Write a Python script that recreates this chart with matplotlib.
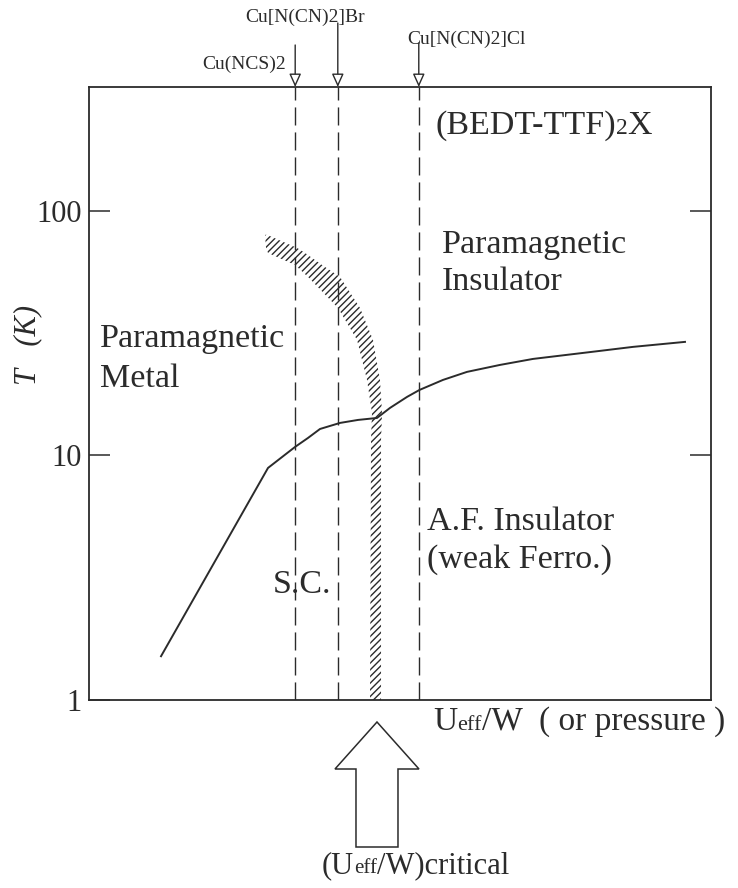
import matplotlib
matplotlib.use('Agg')
import matplotlib.pyplot as plt
from matplotlib.patches import FancyArrow
from matplotlib.transforms import IdentityTransform

plt.rcParams['font.family'] = ['Liberation Serif', 'DejaVu Serif']
plt.rcParams['hatch.linewidth'] = 1.0

INK = '#2b2b2b'

# ---------------- data ----------------
# phase boundary line, x in arbitrary Ueff/W units
boundary_x = [1.158, 2.878, 3.312, 3.521, 3.714, 4.035, 4.325, 4.630, 4.839,
              5.113, 5.314, 5.691, 6.077, 6.608, 7.138, 8.215, 8.746, 9.582]
boundary_T = [1.51, 8.89, 10.83, 11.79, 12.83, 13.58, 13.97, 14.23, 15.64,
              17.35, 18.53, 20.36, 21.96, 23.45, 24.81, 26.76, 27.79, 29.13]

# hatched first-order Mott transition band
band_T = [79.8, 70.6, 67.3, 60.1, 53.7, 40.1, 29.7, 20.4, 14.9, 11.6, 1.0]
band_left = [2.830, 2.846, 2.878, 3.312, 3.521, 4.003, 4.309, 4.469, 4.550, 4.534, 4.518]
band_right = [2.862, 3.344, 3.473, 3.746, 4.035, 4.357, 4.566, 4.678, 4.711, 4.695, 4.695]

# compounds (vertical dashed lines)
compound_names = ['Cu(NCS)2', 'Cu[N(CN)2]Br', 'Cu[N(CN)2]Cl']
compound_x = [3.315, 4.000, 5.302]

x_critical = 4.63

yticks = [1, 10, 100]
ytick_labels = ['1', '10', '100']

# ---------------- figure ----------------
W, H = 738, 888
fig = plt.figure(figsize=(W / 100, H / 100), dpi=100)
ax = fig.add_axes([89 / W, 1 - 700 / H, (711 - 89) / W, (700 - 87) / H])
renderer = fig.canvas.get_renderer()


def fp(px, py):
    return px / W, 1 - py / H


def pieces(px, py, parts, **kw):
    """Draw consecutive text runs of different sizes on one baseline."""
    x = px
    for s, size in parts:
        t = fig.text(x / W, 1 - py / H, s, fontsize=size, va='baseline',
                     color=INK, **kw)
        x += t.get_window_extent(renderer).width


ax.set_yscale('log')
ax.set_xlim(0, 10)
ax.set_ylim(1, 321)
ax.set_xticks([])
ax.set_yticks(yticks)
ax.set_yticklabels(ytick_labels)
ax.yaxis.set_minor_locator(matplotlib.ticker.NullLocator())
ax.tick_params(axis='y', which='major', direction='in', left=True, right=True,
               length=15, width=1.1, color=INK, labelsize=22, labelcolor=INK, pad=5)
for s in ax.spines.values():
    s.set_linewidth(1.3)
    s.set_color(INK)

# dashed compound lines
for xc in compound_x:
    ax.axvline(xc, color=INK, lw=1.0, ls=(0, (13, 5)))

# hatched band
ax.fill_betweenx(band_T, band_left, band_right, facecolor='none',
                 edgecolor=INK, hatch='/////', linewidth=0)

# boundary line
ax.plot(boundary_x, boundary_T, color=INK, lw=1.4)

# top arrows and compound labels
arrow_start_py = [45, 23, 43]
label_pos = [(286, 64, 'right'), (305, 17, 'center'), (466, 39, 'center')]
for name, xc, sp, (lx, ly, ha) in zip(compound_names, compound_x, arrow_start_py, label_pos):
    ax.annotate('', xy=(xc, H - 87), xycoords=('data', 'figure pixels'),
                xytext=(xc, H - sp), textcoords=('data', 'figure pixels'),
                arrowprops=dict(arrowstyle='-|>,head_length=0.8,head_width=0.36',
                                mutation_scale=10, fc='white', ec=INK, lw=1.0,
                                shrinkA=0, shrinkB=0),
                annotation_clip=False)
    fig.text(*fp(lx, ly), name, ha=ha, va='center', fontsize=14, color=INK)

# region labels
big = 24.5
pieces(435, 134, [('(BEDT-TTF)', big), ('2', 17), ('X', big)])
fig.text(*fp(442, 253), 'Paramagnetic', fontsize=big, va='baseline', color=INK)
fig.text(*fp(442, 290), 'Insulator', fontsize=big, va='baseline', color=INK)
fig.text(*fp(100, 347), 'Paramagnetic', fontsize=big, va='baseline', color=INK)
fig.text(*fp(100, 387), 'Metal', fontsize=big, va='baseline', color=INK)
fig.text(*fp(427, 530), 'A.F. Insulator', fontsize=big, va='baseline', color=INK)
fig.text(*fp(427, 568), '(weak Ferro.)', fontsize=big, va='baseline', color=INK)
fig.text(*fp(273, 593), 'S.C.', fontsize=big, va='baseline', color=INK)

# axis labels
fig.text(*fp(28, 345), 'T   (K)', rotation=90, style='italic', fontsize=22,
         ha='center', va='center', color=INK)
pieces(433, 730, [('U', 24), ('eff', 16), ('/W  ( or pressure )', 24)])
pieces(322, 873, [('(U', 22), ('eff', 15), ('/W)critical', 22)])

# big hollow arrow at the critical value
x_disp = ax.transData.transform((x_critical, 1))[0]
big_arrow = FancyArrow(x_disp, H - 847, 0, 125, width=42, head_width=84,
                       head_length=47, length_includes_head=True,
                       transform=IdentityTransform(), fc='white', ec=INK, lw=1.1)
fig.add_artist(big_arrow)

fig.savefig('out.png', dpi=100, facecolor='white')
